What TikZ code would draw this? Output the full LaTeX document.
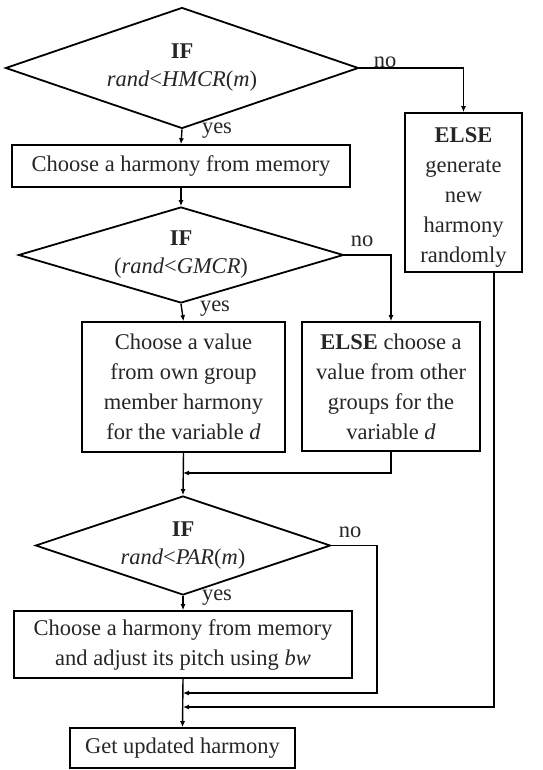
\documentclass[tikz,border=0pt]{standalone}
\usepackage{fontspec}
\setmainfont{Liberation Serif}
\usetikzlibrary{shapes.geometric,arrows.meta}

\begin{document}
\begin{tikzpicture}[x=1pt,y=-1pt,
  every node/.style={font=\fontsize{22.5}{30}\selectfont, text=black!85},
  box/.style={draw=black, line width=1.6pt, inner sep=0pt, align=center},
  cond/.style={draw=black, diamond, line width=1.8pt, inner sep=0pt, align=center},
  flow/.style={draw=black, line width=1.4pt, -{Latex[length=6pt,width=5pt]}},
  lbl/.style={inner sep=0pt}]

\useasboundingbox[fill=white] (0,0) rectangle (542,770);

% decisions
\node[cond, shape aspect=2.917, minimum width=353pt, minimum height=121pt] (d1) at (182,68)
  {\textbf{IF}\\[-2pt]\textit{rand}<\textit{HMCR}(\textit{m})};
\node[cond, shape aspect=3.385, minimum width=325pt, minimum height=96pt] (d2) at (181,255)
  {\textbf{IF}\\[-2pt](\textit{rand}<\textit{GMCR})};
\node[cond, shape aspect=2.98, minimum width=295pt, minimum height=99pt] (d3) at (183,545.5)
  {\textbf{IF}\\[-2pt]\textit{rand}<\textit{PAR}(\textit{m})};

% processes
\node[box, minimum width=338pt, minimum height=42pt] (b1) at (181,166)
  {Choose a harmony from memory};
\node[box, minimum width=117pt, minimum height=159pt] (belse) at (463.5,192.5)
  {\rule{0pt}{24pt}\textbf{ELSE}\\generate\\new\\harmony\\randomly};
\node[box, minimum width=203pt, minimum height=130pt] (bown) at (183.5,387)
  {Choose a value\\from own group\\member harmony\\for the variable \textit{d}};
\node[box, minimum width=178pt, minimum height=129pt] (bother) at (391,386.5)
  {\textbf{ELSE} choose a\\value from other\\groups for the\\variable \textit{d}};
\node[box, minimum width=338pt, minimum height=67pt] (b4) at (183,644.5)
  {Choose a harmony from memory\\and adjust its pitch using \textit{bw}};
\node[box, minimum width=225pt, minimum height=40pt] (bend) at (182.5,748)
  {Get updated harmony};

% branch labels
\node[lbl] (no1) at (385,62) {no};
\node[lbl] (yes1) at (217,131) {yes};
\node[lbl] (no2) at (362,241) {no};
\node[lbl] (yes2) at (215,309) {yes};
\node[lbl] (no3) at (350,532) {no};
\node[lbl] (yes3) at (217,598) {yes};

% junction points on the main column
\coordinate (j1) at (183,473);
\coordinate (j2) at (183,693);
\coordinate (j3) at (183,707);
\coordinate (r3) at (377,693);
\coordinate (relse) at (494,272);

% connectors
\draw[flow] (d1.east) -| (belse.north);
\draw[flow] (d1.south) -- (b1.north);
\draw[flow] (b1.south) -- (d2.north);
\draw[flow] (d2.east) -| (bother.north);
\draw[flow] (d2.south) -- (bown.north);
\draw[flow] (bown.south) -- (d3.north);
\draw[flow] (bother.south) |- (j1);
\draw[flow] (d3.south) -- (b4.north);
\draw[flow] (d3.east) -| (r3) -- (j2);
\draw[flow] (relse) |- (j3);
\draw[flow] (b4.south) -- (bend.north);

\end{tikzpicture}
\end{document}
